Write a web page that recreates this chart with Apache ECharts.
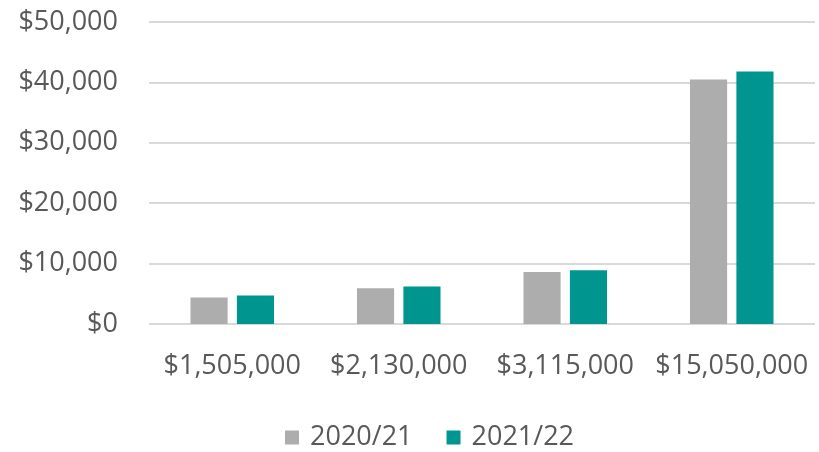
<!DOCTYPE html>
<html>
<head>
<meta charset="utf-8">
<script src="https://cdn.jsdelivr.net/npm/echarts@6/dist/echarts.min.js"></script>
<style>
  html, body { margin: 0; padding: 0; background: #ffffff; }
  #chart { width: 819px; height: 452px; }
</style>
</head>
<body>
<div id="chart"></div>
<script>
// Price-band categories along the x axis
const categories = ['$1,505,000', '$2,130,000', '$3,115,000', '$15,050,000'];
// Series names and values per category
const seriesNames = ['2020/21', '2021/22'];
const values2020 = [4400, 5900, 8600, 40500];
const values2021 = [4700, 6200, 8900, 41800];

const FONT = 'Open Sans';
const TEXT = '#595959';
const SIZE = 27;

const chart = echarts.init(document.getElementById('chart'), null, { renderer: 'canvas' });

function money(v) {
  return '$' + v.toLocaleString('en-US');
}

chart.setOption({
  animation: false,
  backgroundColor: '#ffffff',
  textStyle: { fontFamily: FONT },
  grid: { left: 149, right: 4, top: 22, bottom: 128, containLabel: false },
  legend: {
    left: 280,
    top: 419,
    itemWidth: 14,
    itemHeight: 14,
    itemGap: 34,
    icon: 'rect',
    textStyle: { color: TEXT, fontSize: SIZE, fontFamily: FONT, padding: [0, 0, 0, 6] },
    data: seriesNames
  },
  xAxis: {
    type: 'category',
    data: categories,
    axisLine: { show: false },
    axisTick: { show: false },
    axisLabel: { color: TEXT, fontSize: SIZE, fontFamily: FONT, margin: 29, interval: 0 }
  },
  yAxis: {
    type: 'value',
    min: 0,
    max: 50000,
    interval: 10000,
    axisLine: { show: false },
    axisTick: { show: false },
    splitLine: { lineStyle: { color: '#d9d9d9', width: 2 } },
    axisLabel: { color: TEXT, fontSize: SIZE, fontFamily: FONT, margin: 31, formatter: money }
  },
  series: [
    {
      name: seriesNames[0],
      type: 'bar',
      data: values2020,
      barWidth: '22.3%',
      barGap: '25%',
      itemStyle: { color: '#adadad' }
    },
    {
      name: seriesNames[1],
      type: 'bar',
      data: values2021,
      barWidth: '22.3%',
      itemStyle: { color: '#00968f' }
    }
  ]
});
</script>
</body>
</html>
